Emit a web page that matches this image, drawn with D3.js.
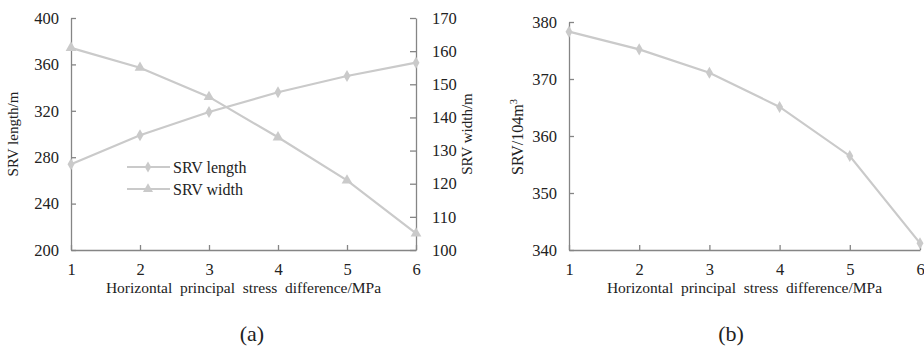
<!DOCTYPE html>
<html>
<head>
<meta charset="utf-8">
<script src="https://cdn.jsdelivr.net/npm/d3@7"></script>
<style>
  body { margin: 0; background: #fff; }
  svg text { font-family: "Liberation Serif", "DejaVu Serif", serif; fill: #222; }
  .axis path, .axis line { stroke: #858585; stroke-width: 1.3; }
  .axis text { font-size: 16.5px; fill: #222; }
</style>
</head>
<body>
<div id="chart"></div>
<script>
// data
var stressDiff = [1, 2, 3, 4, 5, 6];
var srvLength = [274, 299, 319, 336, 350, 361.5];
var srvWidth = [161, 155, 146.2, 134, 121, 105];
var srvVolume = [378.3, 375.2, 371.1, 365.1, 356.5, 341.2];

var lengthTicks = [200, 240, 280, 320, 360, 400];
var widthTicks = [100, 110, 120, 130, 140, 150, 160, 170];
var volumeTicks = [340, 350, 360, 370, 380];

var lineColor = "#cacaca";
var serif = "'Liberation Serif', 'DejaVu Serif', serif";

var svg = d3.select("#chart")
    .append("svg")
    .attr("width", 924)
    .attr("height", 349);

// ---- (a) ----
var xA = d3.scaleLinear().domain([1, 6]).range([71, 416]);
var yL = d3.scaleLinear().domain([200, 400]).range([250, 18]);
var yW = d3.scaleLinear().domain([100, 170]).range([250, 18]);

// ---- (b) ----
var xB = d3.scaleLinear().domain([1, 6]).range([569, 920]);
var yV = d3.scaleLinear().domain([340, 380]).range([250, 22]);

function drawAxes(x, y, yTicks, y2, y2Ticks) {
  svg.append("g")
    .attr("class", "axis")
    .attr("transform", "translate(0," + y.range()[0] + ")")
    .call(d3.axisBottom(x).tickValues(stressDiff).tickFormat(d3.format("d"))
      .tickSizeInner(-5).tickSizeOuter(0).tickPadding(13))
    .attr("font-family", serif);

  svg.append("g")
    .attr("class", "axis")
    .attr("transform", "translate(" + x.range()[0] + ",0)")
    .call(d3.axisLeft(y).tickValues(yTicks).tickFormat(d3.format("d"))
      .tickSizeInner(-5).tickSizeOuter(0).tickPadding(12))
    .attr("font-family", serif);

  if (y2) {
    svg.append("g")
      .attr("class", "axis")
      .attr("transform", "translate(" + x.range()[1] + ",0)")
      .call(d3.axisRight(y2).tickValues(y2Ticks).tickFormat(d3.format("d"))
        .tickSizeInner(-6).tickSizeOuter(0).tickPadding(16))
      .attr("font-family", serif);
  }
}

function drawSeries(x, y, values, symbol) {
  var pts = stressDiff.map(function (d, i) { return [x(d), y(values[i])]; });
  svg.append("path")
    .attr("d", d3.line()(pts))
    .attr("fill", "none")
    .attr("stroke", lineColor)
    .attr("stroke-width", 2.2);

  svg.append("g")
    .selectAll("path")
    .data(pts)
    .enter().append("path")
    .attr("transform", function (d) { return "translate(" + d[0] + "," + d[1] + ")"; })
    .attr("d", d3.symbol().type(symbol).size(symbol === d3.symbolDiamond ? 42 : 50))
    .attr("fill", lineColor);
}

drawAxes(xA, yL, lengthTicks, yW, widthTicks);
drawSeries(xA, yL, srvLength, d3.symbolDiamond);
drawSeries(xA, yW, srvWidth, d3.symbolTriangle);

drawAxes(xB, yV, volumeTicks);
drawSeries(xB, yV, srvVolume, d3.symbolDiamond);

// legend
var legend = [
  { name: "SRV length", symbol: d3.symbolDiamond, y: 167 },
  { name: "SRV width", symbol: d3.symbolTriangle, y: 189 }
];
var lg = svg.append("g").selectAll("g").data(legend).enter().append("g")
  .attr("transform", function (d) { return "translate(127," + d.y + ")"; });
lg.append("line").attr("x1", 0).attr("x2", 43)
  .attr("stroke", lineColor).attr("stroke-width", 2.2);
lg.append("path")
  .attr("transform", "translate(21,0)")
  .attr("d", function (d) { return d3.symbol().type(d.symbol).size(d.symbol === d3.symbolDiamond ? 36 : 44)(); })
  .attr("fill", lineColor);
lg.append("text").attr("x", 46).attr("y", 5.5)
  .attr("font-family", serif)
  .style("font-size", "16px")
  .text(function (d) { return d.name; });

// axis titles
function xTitle(cx) {
  svg.append("text")
    .attr("x", cx).attr("y", 293)
    .attr("text-anchor", "middle")
    .attr("font-family", serif)
    .style("font-size", "15.5px")
    .style("white-space", "pre")
    .text("Horizontal  principal  stress  difference/MPa");
}
xTitle(243.5);
xTitle(744.5);

function yTitle(x, y, label, size) {
  return svg.append("text")
    .attr("transform", "translate(" + x + "," + y + ") rotate(-90)")
    .attr("text-anchor", "middle")
    .attr("font-family", serif)
    .style("font-size", size + "px")
    .text(label);
}
yTitle(18, 134, "SRV length/m", 15);
yTitle(472, 134, "SRV width/m", 15);
var vt = yTitle(523, 137, null, 16);
vt.append("tspan").text("SRV/104m");
vt.append("tspan").attr("dy", -6).style("font-size", "10.5px").text("3");

// panel labels
svg.append("text").attr("x", 252).attr("y", 341)
  .attr("text-anchor", "middle").attr("font-family", serif)
  .style("font-size", "22px").text("(a)");
svg.append("text").attr("x", 731).attr("y", 341)
  .attr("text-anchor", "middle").attr("font-family", serif)
  .style("font-size", "22px").text("(b)");
</script>
</body>
</html>
